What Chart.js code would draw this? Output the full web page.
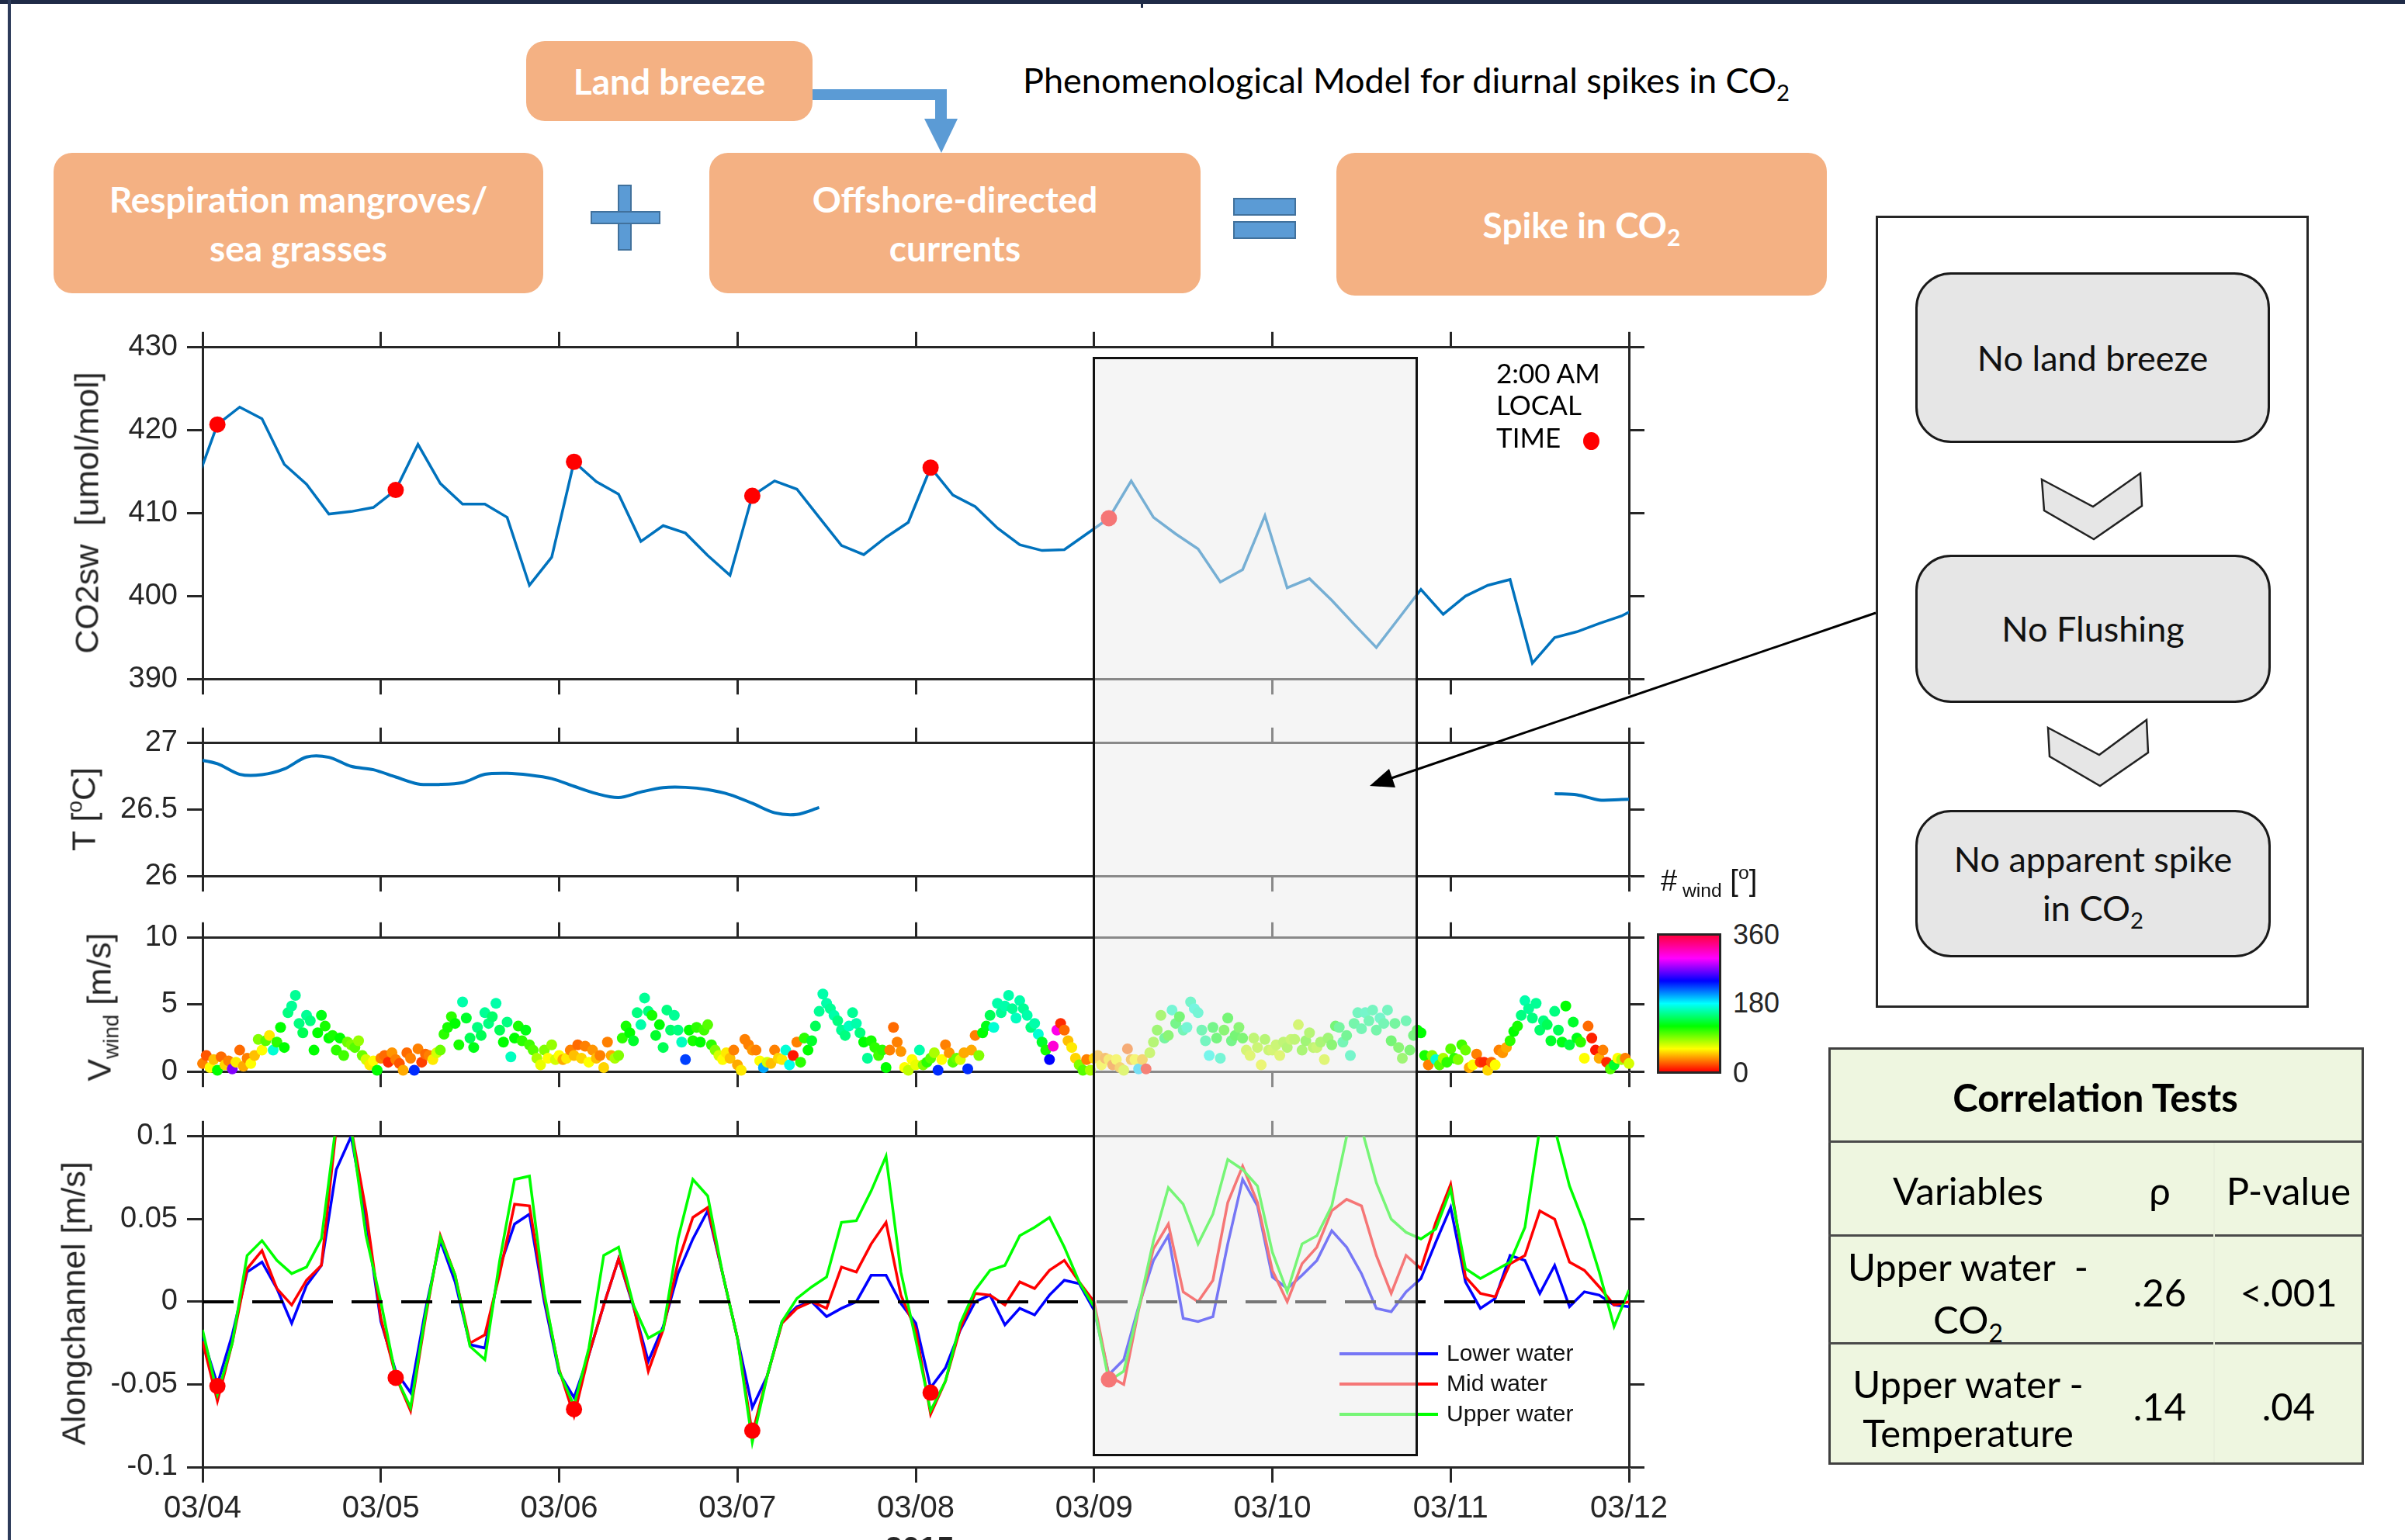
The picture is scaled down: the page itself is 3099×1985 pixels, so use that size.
<!DOCTYPE html>
<html>
<head>
<meta charset="utf-8">
<script src="https://cdn.jsdelivr.net/npm/chart.js@4.4.1/dist/chart.umd.min.js"></script>
<style>
  html, body { margin: 0; padding: 0; background: #fff; }
  body { width: 3099px; height: 1985px; position: relative; overflow: hidden; font-family: Lato, "Open Sans", sans-serif; }
  canvas.panel { position: absolute; left: 0; }
  .peach { position: absolute; background: #f4b183; border-radius: 24px; color: #fff; font-weight: 700; font-size: 46px;
           display: flex; align-items: center; justify-content: center; text-align: center; line-height: 63px; }
  .flow { position: absolute; background: #e6e6e6; border: 3.5px solid #1a1a1a; border-radius: 46px; box-sizing: border-box;
          display: flex; align-items: center; justify-content: center; text-align: center; font-size: 45px; line-height: 63px; color: #111; }
  .t { position: absolute; transform: translate(-50%, -50%); white-space: nowrap; }
  .tb { font-size: 49px; color: #000; }
  .ytitle { position: absolute; transform: translate(-50%, -50%) rotate(-90deg); white-space: nowrap;
            font-family: "Liberation Sans", Arial, sans-serif; font-size: 43px; color: #262626; }
  sub { font-size: 0.65em; vertical-align: -0.35em; line-height: 0; }
  sup { font-size: 0.65em; vertical-align: 0.6em; line-height: 0; }
  .leg { position: absolute; font-family: "Liberation Sans", Arial, sans-serif; font-size: 30px; color: #111; }
</style>
</head>
<body>
<!-- frame -->
<div style="position:absolute;left:0;top:0;width:3099px;height:5px;background:#1f2b47"></div>
<div style="position:absolute;left:1470px;top:0;width:3px;height:10px;background:#1f2b47"></div>
<div style="position:absolute;left:10px;top:0;width:4px;height:1985px;background:#2d3b5a"></div>

<!-- model boxes -->
<div class="peach" style="left:678px;top:53px;width:369px;height:103px;"><div>Land breeze</div></div>
<div class="peach" style="left:69px;top:197px;width:631px;height:181px;"><div>Respiration mangroves/<br>sea grasses</div></div>
<div class="peach" style="left:914px;top:197px;width:633px;height:181px;"><div>Offshore-directed<br>currents</div></div>
<div class="peach" style="left:1722px;top:197px;width:632px;height:184px;"><div>Spike in CO<sub>2</sub></div></div>
<div class="t" style="left:1812px;top:103px;font-size:45px;color:#000;">Phenomenological Model for diurnal spikes in CO<sub>2</sub></div>

<!-- chart panels -->
<canvas id="co2Chart" class="panel"></canvas>
<canvas id="tempChart" class="panel"></canvas>
<canvas id="windChart" class="panel"></canvas>
<canvas id="flowChart" class="panel"></canvas>

<!-- axis titles -->
<div class="ytitle" style="left:112px;top:661px;">CO2sw&nbsp; [umol/mol]</div>
<div class="ytitle" style="left:108px;top:1043px;">T [<sup>o</sup>C]</div>
<div class="ytitle" style="left:128px;top:1298px;">V<sub>wind</sub> [m/s]</div>
<div class="ytitle" style="left:95px;top:1680px;">Alongchannel [m/s]</div>
<div class="t" style="left:1185px;top:1995px;font-family:'Liberation Sans',Arial,sans-serif;font-size:40px;font-weight:700;color:#262626;">2015</div>

<!-- CO2 spike legend -->
<div class="t" style="left:1928px;top:480px;transform:translate(0,-50%);font-size:35px;color:#000;">2:00 AM</div>
<div class="t" style="left:1928px;top:521px;transform:translate(0,-50%);font-size:35px;color:#000;">LOCAL</div>
<div class="t" style="left:1928px;top:563px;transform:translate(0,-50%);font-size:35px;color:#000;">TIME</div>
<div style="position:absolute;left:2040px;top:557px;width:21px;height:23px;border-radius:50%;background:#ff0000;"></div>

<!-- wind direction colour bar -->
<div style="position:absolute;left:2135px;top:1203px;width:83px;height:181px;box-sizing:border-box;border:3px solid #262626;
  background:linear-gradient(to top,#ff0000 0%,#ffff00 16.7%,#00ff00 33.3%,#00ffff 50%,#0000ff 66.7%,#ff00ff 83.3%,#ff0040 100%);"></div>
<div class="t" style="left:2233px;top:1205px;transform:translate(0,-50%);font-family:'Liberation Sans',Arial,sans-serif;font-size:36px;color:#262626;">360</div>
<div class="t" style="left:2233px;top:1293px;transform:translate(0,-50%);font-family:'Liberation Sans',Arial,sans-serif;font-size:36px;color:#262626;">180</div>
<div class="t" style="left:2233px;top:1383px;transform:translate(0,-50%);font-family:'Liberation Sans',Arial,sans-serif;font-size:36px;color:#262626;">0</div>
<div class="t" style="left:2140px;top:1135px;transform:translate(0,-50%);font-family:'Liberation Sans',Arial,sans-serif;font-size:38px;color:#111;">#<sub>&nbsp;wind</sub>&nbsp;[<sup>o</sup>]</div>

<!-- along-channel legend -->
<div style="position:absolute;left:1726px;top:1743px;width:127px;height:4px;background:#0000ff;"></div>
<div style="position:absolute;left:1726px;top:1782px;width:127px;height:4px;background:#ff0000;"></div>
<div style="position:absolute;left:1726px;top:1821px;width:127px;height:4px;background:#00ff00;"></div>
<div class="leg" style="left:1864px;top:1727px;">Lower water</div>
<div class="leg" style="left:1864px;top:1766px;">Mid water</div>
<div class="leg" style="left:1864px;top:1805px;">Upper water</div>

<!-- shaded no-spike window -->
<div style="position:absolute;left:1408px;top:460px;width:419px;height:1417px;box-sizing:border-box;border:3px solid #111;background:rgba(235,235,235,0.5);"></div>

<!-- flow chart of the no-spike case -->
<div style="position:absolute;left:2417px;top:278px;width:558px;height:1021px;box-sizing:border-box;border:3px solid #262626;background:#fff;"></div>
<div class="flow" style="left:2468px;top:351px;width:457px;height:220px;"><div>No land breeze</div></div>
<div class="flow" style="left:2468px;top:715px;width:458px;height:191px;"><div>No Flushing</div></div>
<div class="flow" style="left:2468px;top:1044px;width:458px;height:190px;"><div>No apparent spike<br>in CO<sub>2</sub></div></div>

<!-- correlation table -->
<div style="position:absolute;left:2356px;top:1350px;width:690px;height:538px;box-sizing:border-box;border:3px solid #3f3f3f;background:#eef6e0;"></div>
<div style="position:absolute;left:2356px;top:1470px;width:690px;height:3px;background:#4a4a4a;"></div>
<div style="position:absolute;left:2356px;top:1591px;width:690px;height:3px;background:#4a4a4a;"></div>
<div style="position:absolute;left:2356px;top:1730px;width:690px;height:3px;background:#4a4a4a;"></div>
<div style="position:absolute;left:2852px;top:1473px;width:2px;height:412px;background:#e9f0dc;"></div>
<div class="t tb" style="left:2700px;top:1414px;font-weight:700;">Correlation Tests</div>
<div class="t tb" style="left:2536px;top:1534px;">Variables</div>
<div class="t tb" style="left:2783px;top:1534px;">ρ</div>
<div class="t tb" style="left:2949px;top:1534px;">P-value</div>
<div class="t tb" style="left:2536px;top:1632px;">Upper water&nbsp; -</div>
<div class="t tb" style="left:2536px;top:1700px;">CO<sub>2</sub></div>
<div class="t tb" style="left:2783px;top:1665px;">.26</div>
<div class="t tb" style="left:2949px;top:1665px;">&lt;.001</div>
<div class="t tb" style="left:2536px;top:1783px;">Upper water -</div>
<div class="t tb" style="left:2536px;top:1846px;">Temperature</div>
<div class="t tb" style="left:2783px;top:1812px;">.14</div>
<div class="t tb" style="left:2949px;top:1812px;">.04</div>

<!-- connectors, operators, chevrons -->
<svg width="3099" height="1985" style="position:absolute;left:0;top:0;pointer-events:none;">
  <polygon points="1047,115 1220,115 1220,153 1234,153 1213,197 1191,153 1205,153 1205,129 1047,129" fill="#5b9bd5"/>
  <rect x="797" y="239" width="16" height="83" fill="#5b9bd5" stroke="#41719c" stroke-width="2"/>
  <rect x="762" y="273" width="88" height="15" fill="#5b9bd5" stroke="#41719c" stroke-width="2"/>
  <rect x="1590" y="256" width="79" height="21" fill="#5b9bd5" stroke="#41719c" stroke-width="2"/>
  <rect x="1590" y="286" width="79" height="21" fill="#5b9bd5" stroke="#41719c" stroke-width="2"/>
  <polygon points="2631,618 2697,653 2758,610 2760,652 2698,695 2634,658" fill="#e6e6e6" stroke="#222" stroke-width="2.5"/>
  <polygon points="2639,938 2705,973 2766,928 2768,970 2706,1013 2641,975" fill="#e6e6e6" stroke="#222" stroke-width="2.5"/>
  <line x1="2417" y1="790" x2="1790" y2="1004" stroke="#000" stroke-width="3"/>
  <polygon points="1765,1013 1790,991 1798,1015" fill="#000"/>
</svg>

<script>
// x axis: days since 03/04 00:00
const dayTicks = [0, 1, 2, 3, 4, 5, 6, 7, 8];
const dateLabels = ['03/04', '03/05', '03/06', '03/07', '03/08', '03/09', '03/10', '03/11', '03/12'];

// CO2 and temperature, 3-hourly from 03/03 23:00
const co2Start = -1 / 24;
const co2Step = 1 / 8;
const co2Values = [413.3, 420.7, 422.8, 421.4, 415.9, 413.5, 409.9, 410.2, 410.7, 412.8,
  418.3, 413.6, 411.1, 411.1, 409.5, 401.3, 404.7, 416.2, 413.8, 412.3,
  406.6, 408.5, 407.6, 404.9, 402.5, 412.1, 413.9, 412.9, 409.5, 406.1,
  405.0, 407.1, 408.9, 415.5, 412.2, 410.8, 408.2, 406.2, 405.5, 405.6,
  407.5, 409.4, 413.9, 409.5, 407.5, 405.7, 401.7, 403.2, 409.7, 401.0,
  402.1, 399.5, 396.6, 393.8, 397.3, 400.8, 397.8, 400.0, 401.3, 402.0,
  391.9, 395.0, 395.7, 396.7, 397.6, 399.0];
const tempValues = [26.88, 26.845, 26.765, 26.762, 26.805, 26.895, 26.893, 26.825, 26.80, 26.745,
  26.693, 26.689, 26.703, 26.765, 26.773, 26.76, 26.733, 26.675, 26.62, 26.59,
  26.632, 26.665, 26.667, 26.65, 26.612, 26.547, 26.476, 26.464, 26.515,
  null, null, null, null, null, null, null, null, null, null, null, null, null, null, null, null,
  null, null, null, null, null, null, null, null, null, null, null, null, null, null, null, null,
  26.62, 26.611, 26.572, 26.576, 26.58];

// 2:00 AM local time markers
const spikeDays = [0.0833, 1.0833, 2.0833, 3.0833, 4.0833, 5.0833];
const spikeCo2 = [420.7, 412.8, 416.2, 412.1, 415.5, 409.4];
const spikeFlow = [-0.051, -0.046, -0.065, -0.078, -0.055, -0.047];

// wind, half-hourly from 03/04 00:00
const windStep = 1 / 48;
const windSpeed = [
  0.6,1.2,0.3,0.9,0.1,1.1,0.5,0.8,0.2,0.7,1.6,0.4, 1.0,0.6,1.2,2.4,1.6,2.3,2.7,1.6,2.2,3.3,1.8,4.4,
  4.9,5.7,3.6,2.9,4.2,3.8,1.6,2.9,4.2,3.4,2.5,2.7, 1.6,2.5,1.2,2.2,2.0,1.8,2.3,1.2,0.9,0.5,0.8,0.1,
  1.0,1.2,0.7,1.4,0.9,0.6,0.1,1.4,1.0,0.1,1.7,0.7, 1.3,1.2,0.9,1.4,1.6,2.8,3.3,4.1,3.6,2.0,5.2,4.0,
  2.5,1.8,3.3,2.7,4.4,3.6,4.1,5.1,3.1,2.2,3.7,1.1, 2.5,3.4,2.3,3.1,2.0,1.6,1.0,0.5,1.6,1.0,2.0,0.9,
  1.2,0.9,1.0,1.6,1.2,2.0,1.0,1.9,0.7,1.6,1.0,1.2, 0.3,2.2,1.2,1.0,1.2,2.5,3.4,2.9,2.3,4.4,3.5,5.5,
  4.5,4.2,2.7,3.5,1.8,4.6,3.1,4.2,3.1,2.2,0.9,3.1, 2.3,3.3,2.2,3.1,3.5,2.0,1.6,1.2,0.9,1.4,1.0,1.6,
  0.5,0.1,2.4,2.0,1.6,1.6,0.8,0.3,0.7,0.6,1.6,1.0, 0.9,1.6,0.5,1.2,2.2,0.7,2.5,1.6,2.3,3.4,4.5,5.8,
  5.1,4.7,4.2,3.8,3.1,2.7,3.4,4.4,3.6,2.9,2.2,1.0, 2.3,1.8,1.2,1.6,0.3,1.6,3.3,2.2,1.5,0.3,0.1,0.9,
  0.5,1.6,0.5,0.7,1.0,1.4,0.1,0.9,2.0,1.4,0.7,1.0, 0.9,1.4,0.2,1.6,2.7,1.2,2.9,3.4,4.2,3.3,5.1,4.4,
  4.9,5.7,4.7,4.0,5.3,4.7,4.2,3.3,3.6,2.8,2.2,1.6, 0.9,1.9,3.1,3.6,3.1,2.3,1.8,1.0,0.5,0.1,0.9,0.1,
  1.0,1.2,0.5,1.0,0.9,0.5,0.9,0.3,0.1,1.7,0.9,0.9, 0.2,0.9,0.2,1.4,2.2,3.1,4.2,2.5,2.7,4.6,3.6,4.1,
  3.1,3.3,5.2,4.7,4.4,3.1,2.3,1.2,3.3,2.5,1.0,3.1, 4.0,2.3,2.7,3.3,2.5,1.6,1.2,2.5,1.8,0.5,2.4,1.6,
  1.6,2.0,1.2,2.2,1.8,2.4,2.4,3.5,1.6,2.3,2.9,1.8, 1.8,2.2,0.9,2.5,2.0,3.4,3.3,2.2,2.7,1.2,3.6,4.4,
  3.2,4.4,3.8,4.6,3.1,4.0,3.6,4.6,2.3,3.6,1.8,1.0, 3.8,1.6,2.7,3.1,2.9,1.2,0.5,1.2,0.9,0.5,1.0,0.7,
  1.7,1.0,0.9,2.0,1.6,0.3,0.5,1.3,0.7,0.7,0.1,0.7, 0.5,1.6,1.4,1.8,2.3,3.0,3.4,4.2,5.3,4.7,4.0,5.1,
  3.1,3.8,3.5,2.3,4.5,3.1,2.2,4.9,2.0,3.7,2.5,2.2, 1.0,3.4,2.5,1.6,1.0,1.6,0.7,0.2,0.5,1.0,0.9,1.0,
  0.6];
const windDir = [
  30,20,60,45,120,25,50,30,270,55,25,40, 30,60,45,90,60,100,55,170,110,120,120,150,
  155,155,150,140,155,150,120,120,125,115,120,115, 110,120,105,95,90,100,85,95,70,55,60,120,
  30,25,10,35,30,20,40,25,30,230,30,15, 25,30,55,70,95,110,115,110,120,115,160,130,
  140,125,150,140,155,150,145,160,140,120,150,165, 120,115,110,125,105,100,80,65,90,60,85,70,
  60,40,55,30,45,25,50,30,60,35,45,30, 50,30,40,80,90,110,115,120,130,150,160,155,
  150,115,130,120,140,150,145,155,150,165,225,120, 115,110,120,105,100,110,90,70,60,55,45,30,
  40,55,30,30,35,30,60,200,70,45,30,50, 55,170,175,5,30,110,110,120,130,140,155,160,
  160,155,160,150,155,150,165,155,160,150,120,155, 115,110,105,110,120,30,25,30,35,60,75,60,
  65,160,90,110,100,80,230,60,30,35,100,95, 70,40,230,40,30,90,120,125,140,170,160,155,
  160,160,155,165,160,155,160,150,160,170,130,115, 240,310,305,10,25,45,55,50,90,100,30,80,
  50,40,60,35,55,30,60,45,70,25,40,60, 190,45,5,80,90,100,95,140,110,165,130,120,
  150,165,160,170,165,150,155,175,130,125,165,110, 120,130,120,110,115,75,70,85,80,65,90,80,
  75,80,70,85,90,80,85,75,95,100,90,85, 80,95,70,100,110,120,140,150,135,160,145,155,
  150,160,150,155,145,160,150,155,120,140,110,100, 150,115,125,120,120,115,30,90,170,100,80,110,
  100,110,90,105,95,40,60,30,15,10,50,25, 60,30,35,40,110,120,115,150,160,155,150,155,
  145,150,140,130,150,140,125,120,135,130,125,110, 60,25,8,5,40,30,10,100,130,60,80,30,
  70];

// along-channel velocity, 2-hourly from 03/04 00:00
const flowStep = 1 / 12;
const flowLower = [
  -0.021,-0.05,-0.02,0.018,0.024,0.008,-0.013,0.01,0.022,0.08,0.1,0.05,
  -0.012,-0.042,-0.055,-0.005,0.037,0.012,-0.026,-0.028,0.021,0.047,0.053,0,
  -0.043,-0.058,-0.032,-0.002,0.026,-0.003,-0.036,-0.015,0.017,0.038,0.055,0.017,
  -0.022,-0.064,-0.045,-0.012,-0.003,0,-0.009,-0.004,0.0,0.016,0.016,-0.001,
  -0.013,-0.052,-0.04,-0.017,0.0,0.004,-0.014,-0.004,-0.008,0.004,0.013,0.011,
  -0.005,-0.044,-0.035,-0.003,0.025,0.04,-0.01,-0.012,-0.009,0.035,0.074,0.058,
  0.015,0.008,0.016,0.025,0.043,0.033,0.017,-0.004,-0.006,0.006,0.014,0.036,
  0.057,0.012,-0.004,0.002,0.028,0.025,0.005,0.022,-0.003,0.006,0.004,-0.002,
  -0.003];
const flowMid = [
  -0.024,-0.06,-0.025,0.02,0.031,0.008,-0.002,0.013,0.022,0.105,0.105,0.055,
  -0.01,-0.045,-0.066,-0.01,0.04,0.016,-0.025,-0.02,0.017,0.059,0.058,0.003,
  -0.041,-0.069,-0.032,-0.002,0.026,-0.002,-0.042,-0.017,0.024,0.051,0.057,0.017,
  -0.022,-0.08,-0.045,-0.013,-0.004,0,-0.004,0.021,0.018,0.035,0.048,0.004,
  -0.017,-0.068,-0.048,-0.016,0.005,0.004,-0.002,0.012,0.008,0.019,0.025,0.012,
  0,-0.045,-0.05,-0.005,0.032,0.047,0.006,0.0,0.013,0.06,0.082,0.06,
  0.019,0,0.023,0.033,0.055,0.062,0.058,0.028,0.005,0.028,0.02,0.048,
  0.071,0.015,0.005,0.003,0.023,0.028,0.055,0.05,0.024,0.019,0.009,-0.002,
  0];
const flowUpper = [
  -0.017,-0.056,-0.025,0.028,0.037,0.025,0.017,0.021,0.038,0.108,0.105,0.04,
  0,-0.045,-0.064,-0.008,0.039,0.016,-0.027,-0.035,0.025,0.074,0.076,0.005,
  -0.042,-0.063,-0.028,0.028,0.033,-0.002,-0.022,-0.017,0.038,0.074,0.064,0.017,
  -0.022,-0.085,-0.045,-0.012,0.002,0.009,0.015,0.048,0.049,0.067,0.088,0.018,
  -0.023,-0.066,-0.048,-0.013,0.007,0.019,0.022,0.04,0.045,0.051,0.033,0.012,
  -0.003,-0.048,-0.042,-0.004,0.037,0.069,0.059,0.035,0.053,0.086,0.08,0.07,
  0.03,0.006,0.035,0.04,0.058,0.1,0.105,0.072,0.05,0.042,0.038,0.044,
  0.068,0.02,0.014,0.019,0.024,0.045,0.105,0.105,0.07,0.047,0.018,-0.015,
  0.007];

// y ticks per panel
const co2Ticks = [390, 400, 410, 420, 430];
const co2Labels = ['390', '400', '410', '420', '430'];
const tempTicks = [26, 26.5, 27];
const tempLabels = ['26', '26.5', '27'];
const windTicks = [0, 5, 10];
const windLabels = ['0', '5', '10'];
const flowTicks = [-0.1, -0.05, 0, 0.05, 0.1];
const flowLabels = ['-0.1', '-0.05', '0', '0.05', '0.1'];

// layout
const PLOT_L = 261, PLOT_R = 2099, CANVAS_W = 2200;
const AX = '#262626';
const tickFont = { family: '"Liberation Sans", Arial, sans-serif', size: 38 };

const series = (vals, start, step) => vals.map((v, i) => ({ x: start + i * step, y: v }));
const pairs = (xs, ys) => xs.map((x, i) => ({ x, y: ys[i] }));

function makePanel(id, areaTop, areaBottom, yMin, yMax, yTicks, yLabels, datasets, withDates) {
  const bottomH = withDates ? 90 : 30;
  const cv = document.getElementById(id);
  cv.width = CANVAS_W;
  cv.height = areaBottom - areaTop + 30 + bottomH;
  cv.style.top = (areaTop - 30) + 'px';

  const grid = { display: true, drawOnChartArea: false, drawTicks: true, tickLength: 20, tickWidth: 3, tickColor: AX };
  const border = { display: true, width: 3, color: AX };
  const setX = s => { s.ticks = dayTicks.map(v => ({ value: v })); };
  const setY = s => { s.ticks = yTicks.map(v => ({ value: v })); };

  return new Chart(cv, {
    type: 'scatter',
    data: { datasets },
    options: {
      responsive: false,
      animation: false,
      devicePixelRatio: 1,
      layout: { padding: 0 },
      plugins: { legend: { display: false }, tooltip: { enabled: false } },
      scales: {
        x: {
          type: 'linear', position: 'bottom', min: 0, max: 8,
          afterBuildTicks: setX, afterFit: s => { s.height = bottomH; },
          grid, border,
          ticks: { display: withDates, autoSkip: false, maxRotation: 0, padding: 10, color: AX,
                   font: { family: tickFont.family, size: 40 }, callback: (v, i) => dateLabels[i] }
        },
        x2: {
          type: 'linear', axis: 'x', position: 'top', min: 0, max: 8,
          afterBuildTicks: setX, afterFit: s => { s.height = 30; },
          grid, border, ticks: { display: false }
        },
        y: {
          type: 'linear', position: 'left', min: yMin, max: yMax,
          afterBuildTicks: setY, afterFit: s => { s.width = PLOT_L; },
          grid, border,
          ticks: { font: tickFont, color: AX, padding: 12, callback: (v, i) => yLabels[i] }
        },
        y2: {
          type: 'linear', axis: 'y', position: 'right', min: yMin, max: yMax,
          afterBuildTicks: setY, afterFit: s => { s.width = CANVAS_W - PLOT_R; },
          grid, border, ticks: { display: false }
        }
      }
    }
  });
}

// CO2
makePanel('co2Chart', 443, 880, 390, 430, co2Ticks, co2Labels, [
  { data: pairs(spikeDays, spikeCo2), pointRadius: 10.5, pointBackgroundColor: '#ff0000', pointBorderWidth: 0, order: 0 },
  { data: series(co2Values, co2Start, co2Step), showLine: true, borderColor: '#0072bd', borderWidth: 3.5, pointRadius: 0, order: 1 }
], false);

// temperature
makePanel('tempChart', 953, 1134, 26, 27, tempTicks, tempLabels, [
  { data: series(tempValues, co2Start, co2Step), showLine: true, spanGaps: false, borderColor: '#0072bd',
    borderWidth: 4, pointRadius: 0, tension: 0.3 }
], false);

// wind speed coloured by direction
makePanel('windChart', 1204, 1386, 0, 10, windTicks, windLabels, [
  { data: series(windSpeed, 0, windStep), pointRadius: 7, pointBorderWidth: 0, clip: false,
    pointBackgroundColor: windDir.map(d => `hsl(${d}, 100%, 50%)`) }
], false);

// along-channel velocity
makePanel('flowChart', 1460, 1891, -0.1, 0.1, flowTicks, flowLabels, [
  { data: pairs(spikeDays, spikeFlow), pointRadius: 10.5, pointBackgroundColor: '#ff0000', pointBorderWidth: 0, order: 0 },
  { data: [{ x: 0, y: 0 }, { x: 8, y: 0 }], showLine: true, borderColor: '#000', borderWidth: 4,
    borderDash: [40, 24], pointRadius: 0, order: 1 },
  { data: series(flowUpper, 0, flowStep), showLine: true, borderColor: '#00ff00', borderWidth: 3.5, pointRadius: 0, order: 2 },
  { data: series(flowMid, 0, flowStep), showLine: true, borderColor: '#ff0000', borderWidth: 3.5, pointRadius: 0, order: 3 },
  { data: series(flowLower, 0, flowStep), showLine: true, borderColor: '#0000ff', borderWidth: 3.5, pointRadius: 0, order: 4 }
], true);
</script>
</body>
</html>
